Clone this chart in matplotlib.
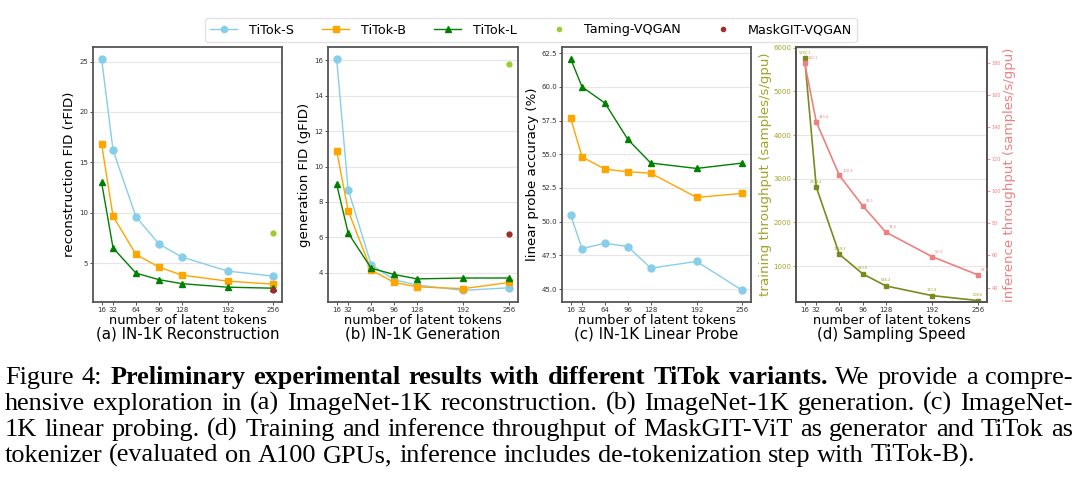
import matplotlib
matplotlib.use("Agg")
import matplotlib.pyplot as plt
from matplotlib.lines import Line2D

# Data
tokens = [16, 32, 64, 96, 128, 192, 256]
token_labels = ["16", "32", "64", "96", "128", "192", "256"]

# (a) reconstruction FID
rfid_s = [25.3, 16.2, 9.6, 6.9, 5.6, 4.2, 3.7]
rfid_b = [16.8, 9.65, 5.85, 4.6, 3.8, 3.2, 2.9]
rfid_l = [13.0, 6.5, 4.0, 3.35, 2.95, 2.6, 2.5]
rfid_taming = 7.94
rfid_maskgit = 2.28

# (b) generation FID
gfid_s = [16.1, 8.7, 4.45, 3.6, 3.3, 3.0, 3.15]
gfid_b = [10.9, 7.5, 4.15, 3.45, 3.2, 3.1, 3.45]
gfid_l = [9.0, 6.25, 4.25, 3.9, 3.65, 3.7, 3.7]
gfid_taming = 15.78
gfid_maskgit = 6.18

# (c) linear probe accuracy
lp_s = [50.5, 48.0, 48.4, 48.15, 46.55, 47.05, 44.9]
lp_b = [57.7, 54.8, 53.9, 53.7, 53.6, 51.8, 52.1]
lp_l = [62.1, 60.0, 58.8, 56.1, 54.35, 53.95, 54.35]

# (d) sampling speed
train_tp = [5762.1, 2808.4, 1269.3, 823.5, 546.2, 323.8, 208.6]
infer_tp = [180.1, 143.4, 109.9, 91.1, 74.6, 59.3, 47.8]

titles = ["(a) IN-1K Reconstruction", "(b) IN-1K Generation",
          "(c) IN-1K Linear Probe", "(d) Sampling Speed"]
ylabels = ["reconstruction FID (rFID)", "generation FID (gFID)",
           "linear probe accuracy (%)", "training throughput (samples/s/gpu)"]

C_S, C_B, C_L = "skyblue", "orange", "green"
C_TAM, C_MG = "yellowgreen", "brown"
C_TRAIN, C_TRAIN_TXT = "#7a8a1f", "#a3a32a"
C_INF = "lightcoral"
SPINE = "#555555"

W, H = 1080, 493
fig = plt.figure(figsize=(W / 100, H / 100), dpi=100)

# axes boxes in pixels: left, right, top, bottom
boxes = [(93, 282), (328, 518), (562, 751), (796, 987)]
top, bottom = 47, 302
axes = []
for l, r in boxes:
    ax = fig.add_axes([l / W, 1 - bottom / H, (r - l) / W, (bottom - top) / H])
    axes.append(ax)

for i, ax in enumerate(axes):
    for s in ax.spines.values():
        s.set_color(SPINE)
        s.set_linewidth(1.3)
    ax.grid(axis="y", color="#e6e6e6", lw=0.8)
    ax.set_axisbelow(True)
    ax.set_xticks(tokens)
    ax.set_xticklabels(token_labels)
    ax.tick_params(labelsize=5, length=2, width=0.6, pad=1.5, colors="#333333")
    ax.set_xlabel("number of latent tokens", fontsize=9.4, labelpad=0.5)
    ax.set_ylabel(ylabels[i], fontsize=9.6, labelpad=2 if i < 3 else 0.5)
    cx = (boxes[i][0] + boxes[i][1]) / 2
    fig.text(cx / W, 1 - 334 / H, titles[i], fontsize=10.8, ha="center", va="center")

mk = dict(lw=1, markersize=5)


def three(ax, s, b, l):
    ax.plot(tokens, s, color=C_S, marker="o", **mk)
    ax.plot(tokens, b, color=C_B, marker="s", **mk)
    ax.plot(tokens, l, color=C_L, marker="^", **mk)


three(axes[0], rfid_s, rfid_b, rfid_l)
axes[0].plot([256], [rfid_taming], "o", color=C_TAM, markersize=3.5)
axes[0].plot([256], [rfid_maskgit], "o", color=C_MG, markersize=3.5)
axes[0].set_yticks([5, 10, 15, 20, 25])

three(axes[1], gfid_s, gfid_b, gfid_l)
axes[1].plot([256], [gfid_taming], "o", color=C_TAM, markersize=3.5)
axes[1].plot([256], [gfid_maskgit], "o", color=C_MG, markersize=3.5)
axes[1].set_yticks([4, 6, 8, 10, 12, 14, 16])

three(axes[2], lp_s, lp_b, lp_l)
lp_ticks = [45.0, 47.5, 50.0, 52.5, 55.0, 57.5, 60.0, 62.5]
axes[2].set_yticks(lp_ticks)
axes[2].set_yticklabels([f"{v:.1f}" for v in lp_ticks])

# (d) twin axes
ax = axes[3]
ax.plot(tokens, train_tp, color=C_TRAIN, marker="s", lw=1.2, markersize=3.5)
ax.set_ylim(177, 6015)
ax.set_yticks([1000, 2000, 3000, 4000, 5000, 6000])
ax.tick_params(axis="y", colors=C_TRAIN_TXT)
ax.yaxis.label.set_color(C_TRAIN_TXT)
for x, v in zip(tokens, train_tp):
    ax.annotate(f"{v:.1f}", (x, v), xytext=(0, 2.5), textcoords="offset points",
                fontsize=2.6, color=C_TRAIN_TXT, ha="center", va="bottom")
ax2 = ax.twinx()
ax2.plot(tokens, infer_tp, color=C_INF, marker="s", lw=1.2, markersize=3.5)
ax2.set_ylim(31, 190)
ax2.set_yticks(range(40, 181, 20))
ax2.tick_params(labelsize=3.5, length=2, width=0.6, pad=1.5, colors=C_INF)
ax2.set_ylabel("inference throughput (samples/s/gpu)", fontsize=9.6, color=C_INF, labelpad=1)
for s in ax2.spines.values():
    s.set_color(SPINE)
    s.set_linewidth(1.3)
for x, v in zip(tokens, infer_tp):
    ax2.annotate(f"{v:.1f}", (x, v), xytext=(2, 2), textcoords="offset points",
                 fontsize=2.6, color=C_INF, ha="left", va="bottom")

# legend
handles = [
    Line2D([], [], color=C_S, marker="o", lw=1, markersize=4.5),
    Line2D([], [], color=C_B, marker="s", lw=1, markersize=4.5),
    Line2D([], [], color=C_L, marker="^", lw=1, markersize=4.5),
    Line2D([], [], color=C_TAM, marker="o", ls="none", markersize=3),
    Line2D([], [], color=C_MG, marker="o", ls="none", markersize=3),
]
names = ["TiTok-S", "TiTok-B", "TiTok-L", "Taming-VQGAN", "MaskGIT-VQGAN"]
fig.legend(handles, names, loc="center", bbox_to_anchor=(531 / W, 1 - 30 / H), ncol=5,
           fontsize=9.2, frameon=True, edgecolor="#dddddd", fancybox=True,
           handlelength=2.1, handletextpad=0.9, columnspacing=2.25, borderpad=0.4)

# caption, justified word by word
caption = [
    [("Figure 4:", "normal"), ("Preliminary experimental results with different TiTok variants.", "bold"),
     ("We provide a compre-", "normal")],
    [("hensive exploration in (a) ImageNet-1K reconstruction. (b) ImageNet-1K generation. (c) ImageNet-", "normal")],
    [("1K linear probing. (d) Training and inference throughput of MaskGIT-ViT as generator and TiTok as", "normal")],
    [("tokenizer (evaluated on A100 GPUs, inference includes de-tokenization step with TiTok-B).", "normal")],
]
X0, X1 = 5, 1073
baselines = [384, 410, 436, 462]
FAM = "Liberation Serif"

fig.canvas.draw()
renderer = fig.canvas.get_renderer()


def word_widths(words, fs):
    ts = [fig.text(0, 0, w, fontsize=fs, family=FAM, weight=wt) for w, wt in words]
    ws = [t.get_window_extent(renderer).width for t in ts]
    for t in ts:
        t.remove()
    return ws


def space_width(fs):
    a, b = word_widths([("a a", "normal"), ("aa", "normal")], fs)
    return a - b


lines = [[(w, wt) for txt, wt in segs for w in txt.split()] for segs in caption]

# pick the size at which the justified lines need only slightly stretched spaces
FS0 = 15.0
sp0 = space_width(FS0)
natural = [sum(word_widths(ws, FS0)) + sp0 * (len(ws) - 1) for ws in lines[:-1]]
FS = FS0 * (X1 - X0 - 6) / max(natural)
space_w = space_width(FS)

for li, words in enumerate(lines):
    texts = [fig.text(0, 1 - baselines[li] / H, w, fontsize=FS, family=FAM,
                      weight=wt, va="baseline", ha="left") for w, wt in words]
    widths = [t.get_window_extent(renderer).width for t in texts]
    last = li == len(lines) - 1
    gap = space_w if last else (X1 - X0 - sum(widths)) / (len(texts) - 1)
    x = X0
    for t, w in zip(texts, widths):
        t.set_x(x / W)
        x += w + gap

fig.savefig("out.png", dpi=100, facecolor="white")
